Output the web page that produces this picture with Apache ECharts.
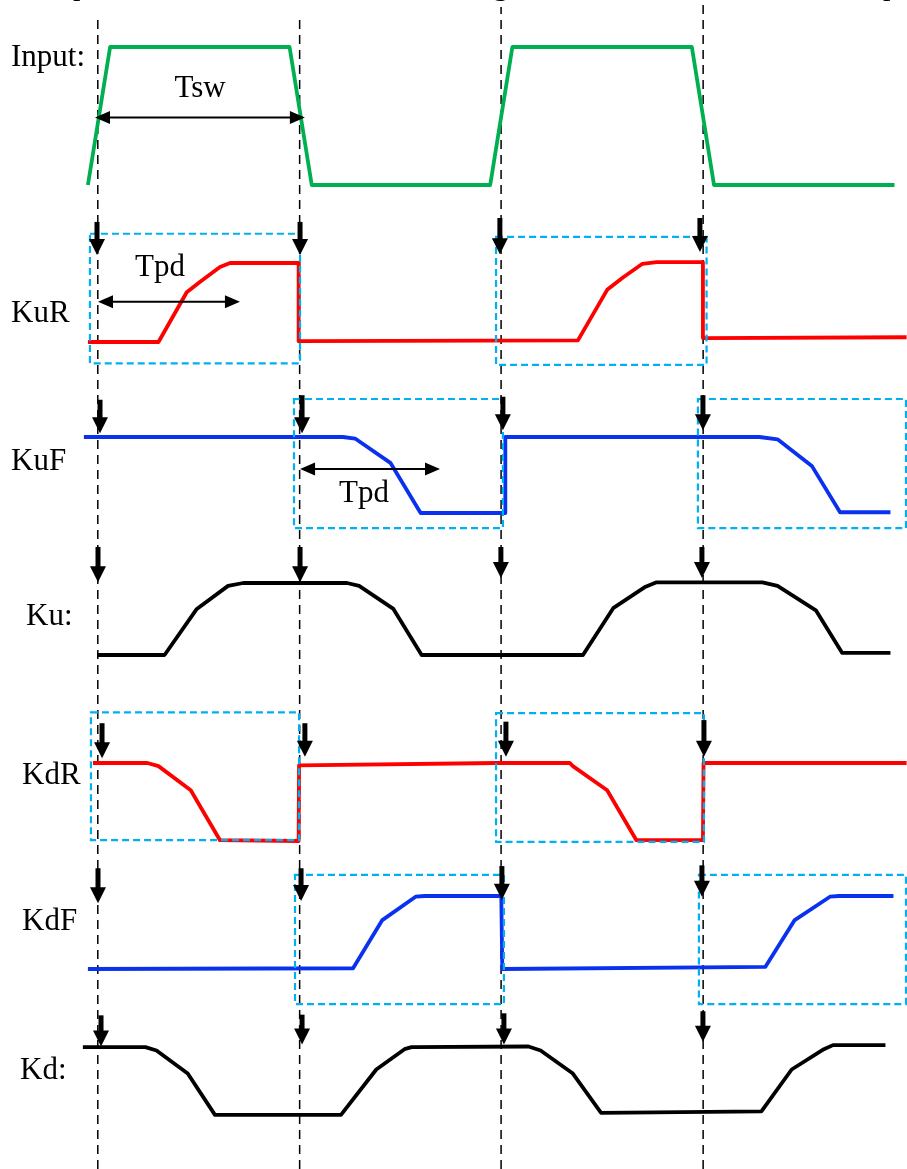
<!DOCTYPE html>
<html>
<head>
<meta charset="utf-8">
<script src="https://cdn.jsdelivr.net/npm/echarts@6/dist/echarts.min.js"></script>
<style>
  html, body { margin: 0; padding: 0; background: #fff; }
  #chart { width: 907px; height: 1169px; }
</style>
</head>
<body>
<div id="chart"></div>
<script>
// ---------- DATA (time in ns, Tsw = 100; level 0 = low, 1 = high) ----------
const rowNames = ['Input:', 'KuR', 'KuF', 'Ku:', 'KdR', 'KdF', 'Kd:'];
const guideTimes = [-0.1, 100, 199.9, 300.1];
const guideTopFrac = [0.988, 0.988, 0.994, 0.997];

const inputWave = [[-5,0],[6,1],[95,1],[106,0],[194.5,0],[205.5,1],[294.5,1],[305.5,0],[395,0]];
const kuRWave = [[-5,0],[30,0],[44,0.63],[50.5,0.76],[60.5,0.95],[65.5,1],[99.5,1],[99.5,0.01],[238,0.02],[252.5,0.66],[260.5,0.82],[270,0.99],[277,1.01],[300,1.01],[300,0.05],[401,0.06]];
const kuFWave = [[-7,1],[121.5,1],[127.5,0.98],[145,0.66],[160,0],[200,0],[202,0],[202,1],[328,1],[337,0.97],[354,0.62],[368,0.01],[393,0.01]];
const kuWave = [[-0.5,0],[33,0],[49,0.64],[64.5,0.96],[72,1],[123.5,1],[129.5,0.96],[146.5,0.64],[160.5,0],[240.5,0],[255.5,0.65],[271,0.94],[277,1.01],[329.5,1.01],[337,0.96],[356,0.62],[369,0.03],[393,0.03]];
const kdRWave = [[-2.5,1],[24.5,1],[30,0.96],[46,0.65],[60.5,0.01],[99.5,0],[99.7,0],[99.7,0.97],[198,1],[234,1],[235.5,0.96],[252.5,0.65],[267,0.01],[300,0.01],[300.3,1],[401,1]];
const kdFWave = [[-5,0],[126.5,0.01],[141,0.67],[157.5,0.99],[162,1],[198,1],[200,1],[200.5,0],[331,0.03],[345.5,0.67],[363,0.99],[367.5,1],[394.5,1]];
const kdWave = [[-7.5,1],[23.5,1],[29,0.95],[44.5,0.61],[58,0],[120.5,0],[138,0.67],[152,0.97],[155.5,1],[213.5,1.01],[219.5,0.95],[235.5,0.61],[249.5,0.03],[329,0.05],[344,0.67],[360,0.97],[364.5,1.03],[390.5,1.03]];

// dashed windows: [tStart, tEnd, levelBottom, levelTop]
const kuRBoxes = [[-4,100.2,-0.27,1.37],[197.4,301.8,-0.29,1.33]];
const kuFBoxes = [[97.2,200.8,-0.2,1.5],[297.5,400.7,-0.2,1.5]];
const kdRBoxes = [[-3.5,99.7,0.01,1.65],[197.4,300.5,-0.01,1.64]];
const kdFBoxes = [[97.7,201.3,-0.48,1.29],[298,400.7,-0.48,1.29]];

// trigger arrows: [t, levelTop, levelTip]
const kuRArrows = [[-0.5,1.52,1.10],[100.2,1.52,1.10],[199.3,1.57,1.11],[298.5,1.57,1.14]];
const kuFArrows = [[1,1.49,1.05],[101.2,1.55,1.05],[200.8,1.53,1.09],[300,1.55,1.09]];
const kuArrows = [[0,1.5,1.01],[100.2,1.5,1.01],[199.8,1.5,1.07],[299.5,1.5,1.07]];
const kdRArrows = [[2,1.51,1.06],[102.6,1.51,1.08],[202.3,1.53,1.08],[300.5,1.55,1.08]];
const kdFArrows = [[0,1.38,0.9],[100.7,1.38,0.93],[200.3,1.41,0.95],[299.5,1.42,0.99]];
const kdArrows = [[1.5,1.47,1.01],[101.2,1.48,1.04],[201.3,1.5,1.04],[300,1.53,1.08]];

// span arrows: [tStart, tEnd, level]
const tswSpan = [[-1.5,102.6,0.49]];
const tpdSpanR = [[0,70.4,0.51]];
const tpdSpanF = [[100.2,169.6,0.58]];
const spanLabels = ['Tsw', 'Tpd', 'Tpd'];

// ---------- LAYOUT ----------
const FONT = "'Liberation Serif', 'Times New Roman', serif";
const rowsLayout = [
  { high: 47,   low: 185,  yMin: -0.3, yMax: 1.3 },
  { high: 263,  low: 342,  yMin: -0.8, yMax: 1.8 },
  { high: 437,  low: 513,  yMin: -0.8, yMax: 1.8 },
  { high: 583,  low: 655,  yMin: -0.8, yMax: 1.8 },
  { high: 763,  low: 841,  yMin: -0.8, yMax: 1.8 },
  { high: 896,  low: 969,  yMin: -0.8, yMax: 1.8 },
  { high: 1053, low: 1128, yMin: -0.8, yMax: 1.8 }
];
const labelPos = [[11,58],[11,314],[11,462],[26,617],[22,776],[22,922],[20,1071]];
const spanLabelPos = [[200,89],[160,268],[364,494]];
const X_MIN = -48.6, X_MAX = 401.2;

const grids = [], xAxes = [], yAxes = [];
rowsLayout.forEach((r, i) => {
  const u = r.low - r.high;
  grids.push({ left: 0, width: 907, top: r.high - (r.yMax - 1) * u, height: (r.yMax - r.yMin) * u });
  xAxes.push({ gridIndex: i, type: 'value', min: X_MIN, max: X_MAX, show: false });
  yAxes.push({ gridIndex: i, type: 'value', min: r.yMin, max: r.yMax, show: false });
});
// overlay grid for the guide lines
grids.push({ left: 0, width: 907, top: 0, height: 1169 });
xAxes.push({ gridIndex: 7, type: 'value', min: X_MIN, max: X_MAX, show: false });
yAxes.push({ gridIndex: 7, type: 'value', min: 0, max: 1, show: false });

const series = [];

// guides
guideTimes.forEach((t, i) => {
  series.push({
    type: 'line', xAxisIndex: 7, yAxisIndex: 7, showSymbol: false, silent: true, clip: false, z: 1,
    data: [[t, 0], [t, guideTopFrac[i]]],
    lineStyle: { color: '#000', width: 1.5, type: [9, 6] }
  });
});

function wave(data, idx, color) {
  series.push({
    type: 'line', xAxisIndex: idx, yAxisIndex: idx, data: data, showSymbol: false,
    clip: false, z: 2, animation: false,
    lineStyle: { color: color, width: 3.8, join: 'round', cap: 'butt' }
  });
}
wave(inputWave, 0, '#00b050');
wave(kuRWave, 1, '#ff0000');
wave(kuFWave, 2, '#0a32ee');
wave(kuWave, 3, '#000000');
wave(kdRWave, 4, '#ff0000');
wave(kdFWave, 5, '#0a32ee');
wave(kdWave, 6, '#000000');

function boxes(data, idx) {
  series.push({
    type: 'custom', xAxisIndex: idx, yAxisIndex: idx, data: data, z: 3, clip: false, animation: false,
    encode: { x: [0, 1], y: [2, 3] },
    renderItem: function (params, api) {
      const p0 = api.coord([api.value(0), api.value(3)]);
      const p1 = api.coord([api.value(1), api.value(2)]);
      return { type: 'rect', shape: { x: p0[0], y: p0[1], width: p1[0] - p0[0], height: p1[1] - p0[1] },
        style: { fill: 'none', stroke: '#00b0f0', lineWidth: 2.2, lineDash: [7, 4] } };
    }
  });
}
boxes(kuRBoxes, 1); boxes(kuFBoxes, 2); boxes(kdRBoxes, 4); boxes(kdFBoxes, 5);

function arrows(data, idx) {
  series.push({
    type: 'custom', xAxisIndex: idx, yAxisIndex: idx, data: data, z: 4, clip: false, animation: false,
    encode: { x: 0, y: [1, 2] },
    renderItem: function (params, api) {
      const top = api.coord([api.value(0), api.value(1)]);
      const tip = api.coord([api.value(0), api.value(2)]);
      const hH = 16, hW = 16, sW = 5;
      return { type: 'group', children: [
        { type: 'rect', shape: { x: tip[0] - sW / 2, y: top[1], width: sW, height: tip[1] - hH - top[1] + 1 }, style: { fill: '#000' } },
        { type: 'polygon', shape: { points: [[tip[0] - hW / 2, tip[1] - hH], [tip[0] + hW / 2, tip[1] - hH], [tip[0], tip[1]]] }, style: { fill: '#000' } }
      ] };
    }
  });
}
arrows(kuRArrows, 1); arrows(kuFArrows, 2); arrows(kuArrows, 3);
arrows(kdRArrows, 4); arrows(kdFArrows, 5); arrows(kdArrows, 6);

function spans(data, idx) {
  series.push({
    type: 'custom', xAxisIndex: idx, yAxisIndex: idx, data: data, z: 4, clip: false, animation: false,
    encode: { x: [0, 1], y: 2 },
    renderItem: function (params, api) {
      const a = api.coord([api.value(0), api.value(2)]);
      const b = api.coord([api.value(1), api.value(2)]);
      const L = 15, W = 6.5;
      return { type: 'group', children: [
        { type: 'line', shape: { x1: a[0] + 4, y1: a[1], x2: b[0] - 4, y2: b[1] }, style: { stroke: '#000', lineWidth: 2 } },
        { type: 'polygon', shape: { points: [[a[0], a[1]], [a[0] + L, a[1] - W], [a[0] + L, a[1] + W]] }, style: { fill: '#000' } },
        { type: 'polygon', shape: { points: [[b[0], b[1]], [b[0] - L, b[1] - W], [b[0] - L, b[1] + W]] }, style: { fill: '#000' } }
      ] };
    }
  });
}
spans(tswSpan, 0); spans(tpdSpanR, 1); spans(tpdSpanF, 2);

const graphic = [];
rowNames.forEach((n, i) => {
  graphic.push({ type: 'text', x: labelPos[i][0], y: labelPos[i][1], z: 10,
    style: { text: n, fontSize: 31, fontFamily: FONT, fill: '#000', align: 'left', verticalAlign: 'middle' } });
});
spanLabels.forEach((n, i) => {
  graphic.push({ type: 'text', x: spanLabelPos[i][0], y: spanLabelPos[i][1], z: 10,
    style: { text: n, fontSize: 31, fontFamily: FONT, fill: '#000', align: 'center', verticalAlign: 'middle' } });
});
// cut-off caption letters at the very top
[['p', 73], ['g', 493], ['p', 883]].forEach(function (g) {
  graphic.push({ type: 'text', x: g[1], y: -13, z: 10,
    style: { text: g[0], fontSize: 30, fontFamily: FONT, fill: '#000', align: 'left', verticalAlign: 'middle' } });
});

const chart = echarts.init(document.getElementById('chart'), null, { renderer: 'canvas' });
chart.setOption({
  animation: false,
  backgroundColor: '#ffffff',
  grid: grids,
  xAxis: xAxes,
  yAxis: yAxes,
  series: series,
  graphic: graphic
});
</script>
</body>
</html>
